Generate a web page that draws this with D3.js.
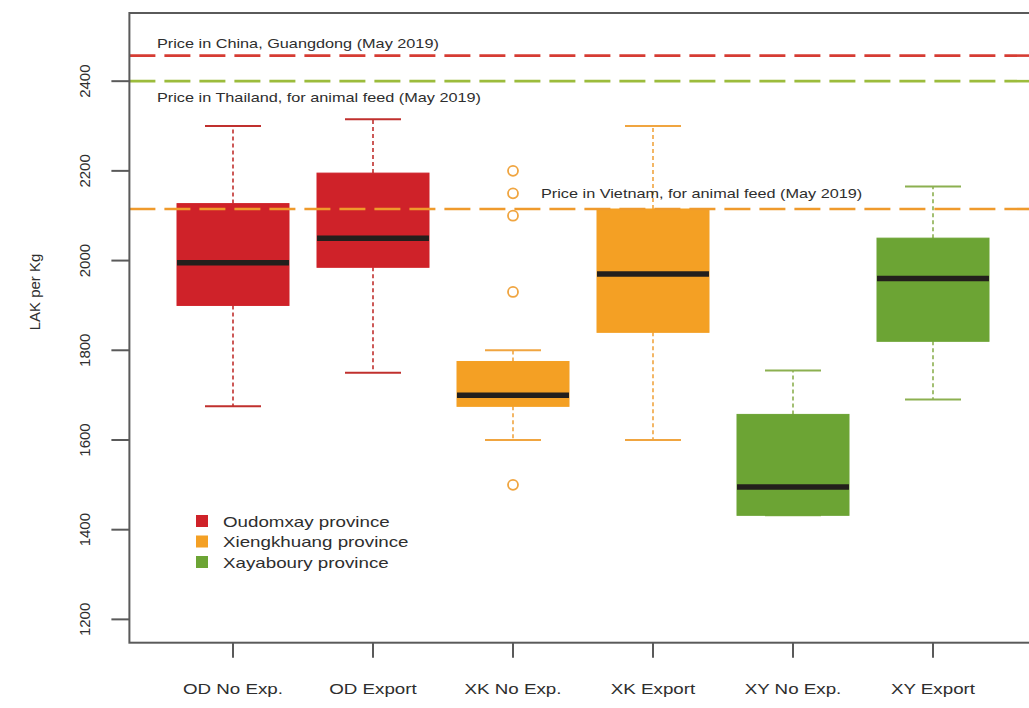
<!DOCTYPE html>
<html>
<head>
<meta charset="utf-8">
<script src="https://cdn.jsdelivr.net/npm/d3@7"></script>
<style>
  html, body { margin: 0; padding: 0; background: #fff; }
  svg { display: block; font-family: "Liberation Sans", Arial, sans-serif; }
</style>
</head>
<body>
<svg id="chart" width="1029" height="708"></svg>
<script>
// ---- data ----
const categories = ["OD No Exp.", "OD Export", "XK No Exp.", "XK Export", "XY No Exp.", "XY Export"];
const provinceOf = [0, 0, 1, 1, 2, 2];
const provinces = ["Oudomxay province", "Xiengkhuang province", "Xayaboury province"];
const whiskerLow  = [1675, 1750, 1600, 1600, 1432, 1690];
const q1          = [1900, 1985, 1675, 1840, 1432, 1820];
const median      = [1995, 2050, 1700, 1970, 1495, 1960];
const q3          = [2127, 2195, 1775, 2115, 1657, 2050];
const whiskerHigh = [2300, 2315, 1800, 2300, 1755, 2165];
const outlierCat  = [2, 2, 2, 2, 2];
const outlierVal  = [2200, 2150, 2100, 1930, 1500];
const yTicks = [1200, 1400, 1600, 1800, 2000, 2200, 2400];
const refLabels = ["Price in China, Guangdong (May 2019)", "Price in Thailand, for animal feed (May 2019)", "Price in Vietnam, for animal feed (May 2019)"];
const refValues = [2457, 2400, 2115];
const yLim = [1200, 2500];

// ---- styles ----
const fillColors = ["#cf2229", "#f4a024", "#6ca434"];
const whiskerColors = ["#c0302e", "#f0a540", "#8cb050"];
const refColors = ["#d63c33", "#9cbc3c", "#ef9a2c"];
const STRETCH = 1.25;

(function() {
const svg = d3.select("#chart");
const n = categories.length;
const padY = (yLim[1] - yLim[0]) * 0.04;
const x = d3.scaleLinear().domain([1 - 0.74, n + 0.74]).range([129.4, 1036.6]);
const y = d3.scaleLinear().domain([yLim[0] - padY, yLim[1] + padY]).range([642.7, 13]);
const pTop = y.range()[1], pBottom = y.range()[0], pLeft = x.range()[0], pRight = x.range()[1];
const idx = d3.range(n);

function stretch(sel) {
  sel.each(function() {
    const L = this.getComputedTextLength();
    d3.select(this).attr("textLength", L * STRETCH).attr("lengthAdjust", "spacingAndGlyphs");
  });
}

const g = svg.append("g");
g.selectAll(".wh-up").data(idx).join("line")
  .attr("x1", i => x(i + 1)).attr("x2", i => x(i + 1))
  .attr("y1", i => y(q3[i])).attr("y2", i => y(whiskerHigh[i]))
  .attr("stroke", i => whiskerColors[provinceOf[i]]).attr("stroke-width", 1.6)
  .attr("stroke-dasharray", "4,3");
g.selectAll(".wh-lo").data(idx).join("line")
  .attr("x1", i => x(i + 1)).attr("x2", i => x(i + 1))
  .attr("y1", i => y(q1[i])).attr("y2", i => y(whiskerLow[i]))
  .attr("stroke", i => whiskerColors[provinceOf[i]]).attr("stroke-width", 1.6)
  .attr("stroke-dasharray", "4,3");
g.selectAll(".cap-up").data(idx).join("line")
  .attr("x1", i => x(i + 1 - 0.2)).attr("x2", i => x(i + 1 + 0.2))
  .attr("y1", i => y(whiskerHigh[i])).attr("y2", i => y(whiskerHigh[i]))
  .attr("stroke", i => whiskerColors[provinceOf[i]]).attr("stroke-width", 2);
g.selectAll(".cap-lo").data(idx).join("line")
  .attr("x1", i => x(i + 1 - 0.2)).attr("x2", i => x(i + 1 + 0.2))
  .attr("y1", i => y(whiskerLow[i])).attr("y2", i => y(whiskerLow[i]))
  .attr("stroke", i => whiskerColors[provinceOf[i]]).attr("stroke-width", 2);
g.selectAll(".box").data(idx).join("rect")
  .attr("x", i => x(i + 1 - 0.4)).attr("width", i => x(i + 1 + 0.4) - x(i + 1 - 0.4))
  .attr("y", i => y(q3[i])).attr("height", i => y(q1[i]) - y(q3[i]))
  .attr("fill", i => fillColors[provinceOf[i]])
  .attr("stroke", i => fillColors[provinceOf[i]]).attr("stroke-width", 1);
g.selectAll(".med").data(idx).join("line")
  .attr("x1", i => x(i + 1 - 0.4)).attr("x2", i => x(i + 1 + 0.4))
  .attr("y1", i => y(median[i])).attr("y2", i => y(median[i]))
  .attr("stroke", "#231f1c").attr("stroke-width", 5.5);
g.selectAll(".out").data(d3.range(outlierVal.length)).join("circle")
  .attr("cx", k => x(outlierCat[k] + 1)).attr("cy", k => y(outlierVal[k]))
  .attr("r", 5).attr("fill", "none")
  .attr("stroke", k => whiskerColors[provinceOf[outlierCat[k]]]).attr("stroke-width", 1.8);

svg.selectAll(".ref").data(refValues).join("line")
  .attr("x1", pLeft).attr("x2", 1029)
  .attr("y1", d => y(d)).attr("y2", d => y(d))
  .attr("stroke", (d, i) => refColors[i]).attr("stroke-width", 2.6)
  .attr("stroke-dasharray", "26,9");

const refLabelPos = [[157, y(refValues[0]) - 12], [157, y(refValues[1]) + 16], [541, y(refValues[2]) - 15]];
svg.selectAll(".reflab").data(refLabels).join("text")
  .attr("x", (d, i) => refLabelPos[i][0]).attr("y", (d, i) => refLabelPos[i][1])
  .attr("dominant-baseline", "central")
  .attr("font-size", 13).attr("fill", "#2e2e2e")
  .text(d => d).call(stretch);

svg.append("rect").attr("x", pLeft).attr("y", pTop)
  .attr("width", pRight - pLeft).attr("height", pBottom - pTop)
  .attr("fill", "none").attr("stroke", "#5a5a5a").attr("stroke-width", 2);

svg.selectAll(".ytick").data(yTicks).join("line")
  .attr("x1", pLeft - 18).attr("x2", pLeft)
  .attr("y1", d => y(d)).attr("y2", d => y(d))
  .attr("stroke", "#5a5a5a").attr("stroke-width", 2);
svg.selectAll(".ylab").data(yTicks).join("text")
  .attr("transform", d => `translate(84,${y(d)}) rotate(-90)`)
  .attr("text-anchor", "middle").attr("dominant-baseline", "central")
  .attr("font-size", 15).attr("fill", "#2e2e2e")
  .text(d => d);
svg.append("text")
  .attr("transform", `translate(34,${292}) rotate(-90)`)
  .attr("text-anchor", "middle").attr("dominant-baseline", "central")
  .attr("font-size", 15).attr("fill", "#2e2e2e")
  .text("LAK per Kg");

svg.selectAll(".xtick").data(idx).join("line")
  .attr("x1", i => x(i + 1)).attr("x2", i => x(i + 1))
  .attr("y1", pBottom).attr("y2", pBottom + 15)
  .attr("stroke", "#5a5a5a").attr("stroke-width", 2);
svg.selectAll(".xlab").data(idx).join("text")
  .attr("x", i => x(i + 1)).attr("y", 688)
  .attr("text-anchor", "middle").attr("dominant-baseline", "central")
  .attr("font-size", 15).attr("fill", "#2e2e2e")
  .text(i => categories[i]).call(stretch);

const leg = svg.append("g");
const legY = [521, 541.5, 562];
leg.selectAll("rect").data(provinces).join("rect")
  .attr("x", 196).attr("y", (d, i) => legY[i] - 6)
  .attr("width", 12).attr("height", 12)
  .attr("fill", (d, i) => fillColors[i]);
leg.selectAll("text").data(provinces).join("text")
  .attr("x", 223).attr("y", (d, i) => legY[i])
  .attr("dominant-baseline", "central")
  .attr("font-size", 15).attr("fill", "#2e2e2e")
  .text(d => d).call(stretch);
})();
</script>
</body>
</html>
